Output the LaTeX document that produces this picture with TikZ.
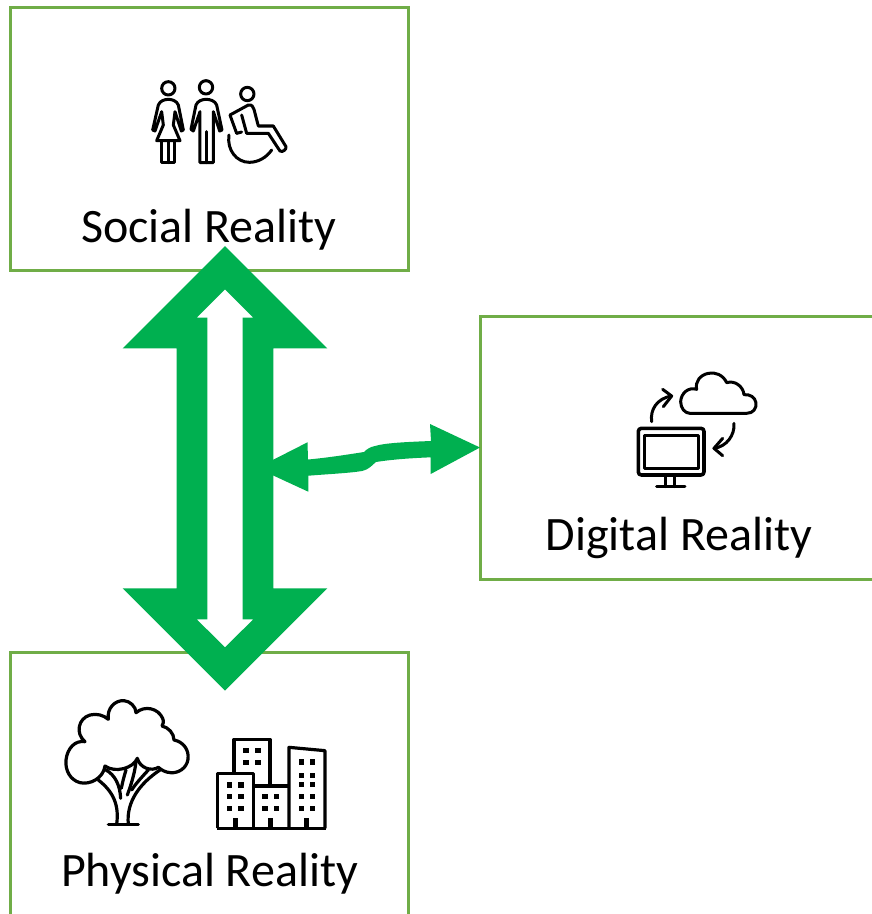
\documentclass[tikz,border=0pt]{standalone}
\usepackage{fontspec}
\setmainfont{Carlito}
\definecolor{boxgreen}{HTML}{70AD47}
\definecolor{arrowgreen}{HTML}{00B050}
\tikzset{
  realitybox/.style={draw=boxgreen,line width=3pt,minimum width=398pt,minimum height=263pt,inner sep=0pt,outer sep=0pt,fill=white},
  realitylabel/.style={anchor=base,inner sep=0pt,font=\fontsize{48}{48}\selectfont,text=black},
  iconline/.style={draw=black,line width=3.2pt,line cap=round,line join=round,fill=none},
  iconthin/.style={draw=black,line width=3pt,line cap=round,line join=round,fill=none},
  blockarrow/.style={fill=arrowgreen,draw=none},
  zoomed/.style={x=0.3333pt,y=-0.3333pt}
}
\begin{document}
\begin{tikzpicture}[x=1pt,y=-1pt]
\useasboundingbox (0,0) rectangle (872,914);
\fill[white] (0,0) rectangle (872,914);

\node[realitybox] (social) at (209,138.5) {};
\node[realitybox] (digital) at (679,447.5) {};
\node[realitybox] (physical) at (209,783.5) {};

\node[realitylabel] (sociallabel) at (209,242) {Social Reality};
\node[realitylabel] (digitallabel) at (679,550) {Digital Reality};
\node[realitylabel] (physicallabel) at (209.5,886) {Physical Reality};

\coordinate (bigtop) at (225,246);
\coordinate (bigbottom) at (225,690.7);

% curved two-headed arrow
\fill[blockarrow] (digital.west) -- ++(-50,-23.5) -- ++(1,17)
  .. controls (405,442) and (385,443) .. (375,446)
  .. controls (370,447) and (367,449) .. (364,452)
  .. controls (345,455) and (325,458) .. (308,459.5)
  -- (307.5,442.3) -- (257,468) -- (308.3,491.7) -- (308.3,475.7)
  .. controls (330,474) and (350,473) .. (362,471)
  .. controls (370,469) and (372,465) .. (376,462)
  .. controls (395,459) and (415,458) .. (430.7,457.3)
  -- (430.7,474) -- cycle;

% large two-headed arrow
\fill[blockarrow,even odd rule]
  (bigtop) -- (327.3,348.3) -- (273.3,348.3) -- (273.3,588.3) -- (327.3,588.3)
  -- (bigbottom) -- (122.7,588.3) -- (176.7,588.3) -- (176.7,348.3) -- (122.7,348.3) -- cycle
  (225,289.3) -- (253.3,317.7) -- (242.7,317.7) -- (242.7,619.3) -- (253.3,619.3)
  -- (225,647.3) -- (196.7,619.3) -- (207.3,619.3) -- (207.3,317.7) -- (196.7,317.7) -- cycle;

% people icon
\begin{scope}[shift={(130,70)},zoomed]
  \draw[iconthin] (115,55) circle [radius=20];
  \draw[iconthin] (68,180) -- (85,105) .. controls (90,92) and (105,88) .. (115,88)
    .. controls (125,88) and (140,92) .. (145,105) -- (160,180) -- (154,183) -- (135,125)
    -- (130,165) -- (150,212) -- (80,212) -- (100,165) -- (95,125) -- (75,183) -- cycle;
  \draw[iconthin] (95,212) -- (95,278) -- (135,278) -- (135,212) (115,212) -- (115,278);
  \draw[iconthin] (228,52) circle [radius=20];
  \draw[iconthin] (183,178) -- (198,105) .. controls (203,92) and (218,88) .. (228,88)
    .. controls (240,88) and (255,92) .. (260,105) -- (276,180) -- (269,183) -- (250,125)
    -- (250,278) -- (210,278) -- (210,125) -- (190,183) -- cycle;
  \draw[iconthin] (230,185) -- (230,278);
  \draw[iconthin] (352,72) circle [radius=20];
  \draw[iconthin] (320,190) -- (300,135) -- (355,105) .. controls (365,103) and (370,110) .. (372,118)
    -- (385,168) -- (430,168) -- (468,230) .. controls (470,238) and (458,248) .. (450,243)
    -- (415,190) -- (350,190) -- (335,135);
  \draw[iconthin] (320,190) -- (335,186);
  \draw[iconthin] (297,195) .. controls (290,240) and (320,277) .. (358,277)
    .. controls (385,277) and (410,262) .. (425,240);
\end{scope}

% cloud and monitor icon
\begin{scope}[shift={(620,360)},zoomed]
  \draw[iconthin] (210,160) -- (380,160) .. controls (400,160) and (410,145) .. (408,128)
    .. controls (405,112) and (390,102) .. (372,104) .. controls (370,80) and (345,60) .. (320,68)
    .. controls (310,45) and (285,35) .. (265,40) .. controls (240,45) and (225,65) .. (230,88)
    .. controls (205,80) and (183,100) .. (182,125) .. controls (182,145) and (195,160) .. (210,160) -- cycle;
  \draw[iconthin] (95,185) .. controls (90,150) and (110,115) .. (155,108);
  \draw[iconthin] (128,88) -- (155,108) -- (130,140);
  \draw[iconthin] (342,190) .. controls (345,225) and (320,260) .. (282,265);
  \draw[iconthin] (308,235) -- (282,265) -- (308,287);
  \draw[iconline,line width=3.6pt,rounded corners=3pt] (55,205) rectangle (252,345);
  \draw[iconthin] (72,225) rectangle (237,325);
  \draw[iconthin] (137,345) -- (137,380) (163,345) -- (163,380) (110,380) -- (195,380);
\end{scope}

% tree and buildings icon
\begin{scope}[shift={(50,690)},zoomed]
  \draw[iconline] (105,155) .. controls (75,130) and (85,85) .. (120,75)
    .. controls (140,70) and (160,75) .. (175,88)
    .. controls (170,55) and (195,30) .. (222,32)
    .. controls (240,33) and (258,50) .. (258,68)
    .. controls (285,45) and (325,55) .. (338,85) .. controls (342,95) and (340,102) .. (336,108)
    .. controls (355,112) and (372,130) .. (372,150)
    .. controls (400,155) and (418,180) .. (414,208)
    .. controls (410,235) and (385,250) .. (362,248) .. controls (345,247) and (335,240) .. (325,232)
    .. controls (305,245) and (270,235) .. (262,205)
    .. controls (250,235) and (195,250) .. (165,228)
    .. controls (160,265) and (120,285) .. (90,278)
    .. controls (60,270) and (45,240) .. (48,210)
    .. controls (52,175) and (75,150) .. (105,155) -- cycle;
  \draw[iconline] (175,403) -- (265,403);
  \draw[iconline] (200,403) .. controls (208,345) and (190,305) .. (145,270);
  \draw[iconline] (235,403) .. controls (228,335) and (270,280) .. (330,240);
  \draw[iconline] (168,240) .. controls (195,255) and (210,285) .. (212,325);
  \draw[iconline] (228,240) .. controls (222,260) and (218,275) .. (214,295);
  \draw[iconline] (258,215) .. controls (255,245) and (245,280) .. (232,315);
  \draw[iconline] (295,240) .. controls (275,262) and (258,280) .. (245,300);
  \draw[iconline,line cap=butt] (552,250) -- (552,148) -- (660,148) -- (660,288);
  \draw[iconline,line cap=butt] (503,415) -- (503,250) -- (610,250) -- (610,415);
  \draw[iconline,line cap=butt] (610,288) -- (717,288);
  \draw[iconline,line cap=butt] (717,415) -- (717,172) -- (825,182) -- (825,415);
  \draw[iconline,line cap=butt] (500,415) -- (828,415);
  \foreach \wx/\wy in {588/182,624/182,588/218,624/218,
                       538/285,573/285,538/320,573/320,538/356,573/356,
                       645/320,680/320,645/356,680/356,
                       755/216,787/216,755/256,787/256,755/284,787/284,755/320,787/320,755/356,787/356}
    \fill[black] (\wx-8,\wy-8) rectangle (\wx+8,\wy+8);
  \fill[black] (548,385) rectangle (564,415);
  \fill[black] (655,385) rectangle (670,415);
  \fill[black] (762,385) rectangle (778,415);
\end{scope}
\end{tikzpicture}
\end{document}
